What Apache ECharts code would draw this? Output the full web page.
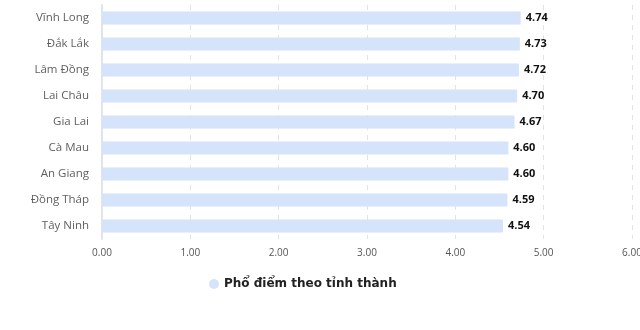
<!DOCTYPE html>
<html>
<head>
<meta charset="utf-8">
<script src="https://cdn.jsdelivr.net/npm/echarts@6/dist/echarts.min.js"></script>
<style>
  html, body { margin: 0; padding: 0; background: #fff; }
  #chart { width: 640px; height: 330px; }
</style>
</head>
<body>
<div id="chart"></div>
<script>
var provinces = ['Vĩnh Long', 'Đắk Lắk', 'Lâm Đồng', 'Lai Châu', 'Gia Lai', 'Cà Mau', 'An Giang', 'Đồng Tháp', 'Tây Ninh'];
var scores = [4.74, 4.73, 4.72, 4.70, 4.67, 4.60, 4.60, 4.59, 4.54];
var seriesName = 'Phổ điểm theo tỉnh thành';

var chart = echarts.init(document.getElementById('chart'));
var option = {
    animation: false,
    textStyle: { fontFamily: '"Open Sans", "Noto Sans", sans-serif' },
    grid: { left: 102, right: 8, top: 5, bottom: 91, outerBoundsMode: 'none', containLabel: false },
    legend: {
        data: [seriesName],
        left: 204,
        top: 273,
        icon: 'circle',
        itemWidth: 10,
        itemHeight: 10,
        itemGap: 5,
        textStyle: { fontSize: 12, fontWeight: 'bold', color: '#222', fontFamily: '"DejaVu Sans", sans-serif' }
    },
    xAxis: {
        type: 'value',
        min: 0,
        max: 6,
        interval: 1,
        axisLabel: {
            fontSize: 10,
            color: '#555',
            margin: 9,
            formatter: function (v) { return v.toFixed(2); }
        },
        axisLine: { show: false },
        axisTick: { show: false },
        splitLine: { show: true, lineStyle: { type: [5, 5], color: '#e3e3e3' } }
    },
    yAxis: {
        type: 'category',
        inverse: true,
        data: provinces,
        axisLabel: { fontSize: 11.5, color: '#5f5f5f', margin: 13 },
        axisLine: { show: true, lineStyle: { color: '#dfe4f2', width: 2 } },
        axisTick: { show: false }
    },
    series: [{
        name: seriesName,
        type: 'bar',
        data: scores,
        barWidth: 13,
        itemStyle: { color: '#d6e4fb' },
        label: {
            show: true,
            position: 'right',
            distance: 5,
            fontSize: 11,
            fontWeight: 'bold',
            color: '#111',
            formatter: function (p) { return p.value.toFixed(2); }
        }
    }]
};
chart.setOption(option);
</script>
</body>
</html>
